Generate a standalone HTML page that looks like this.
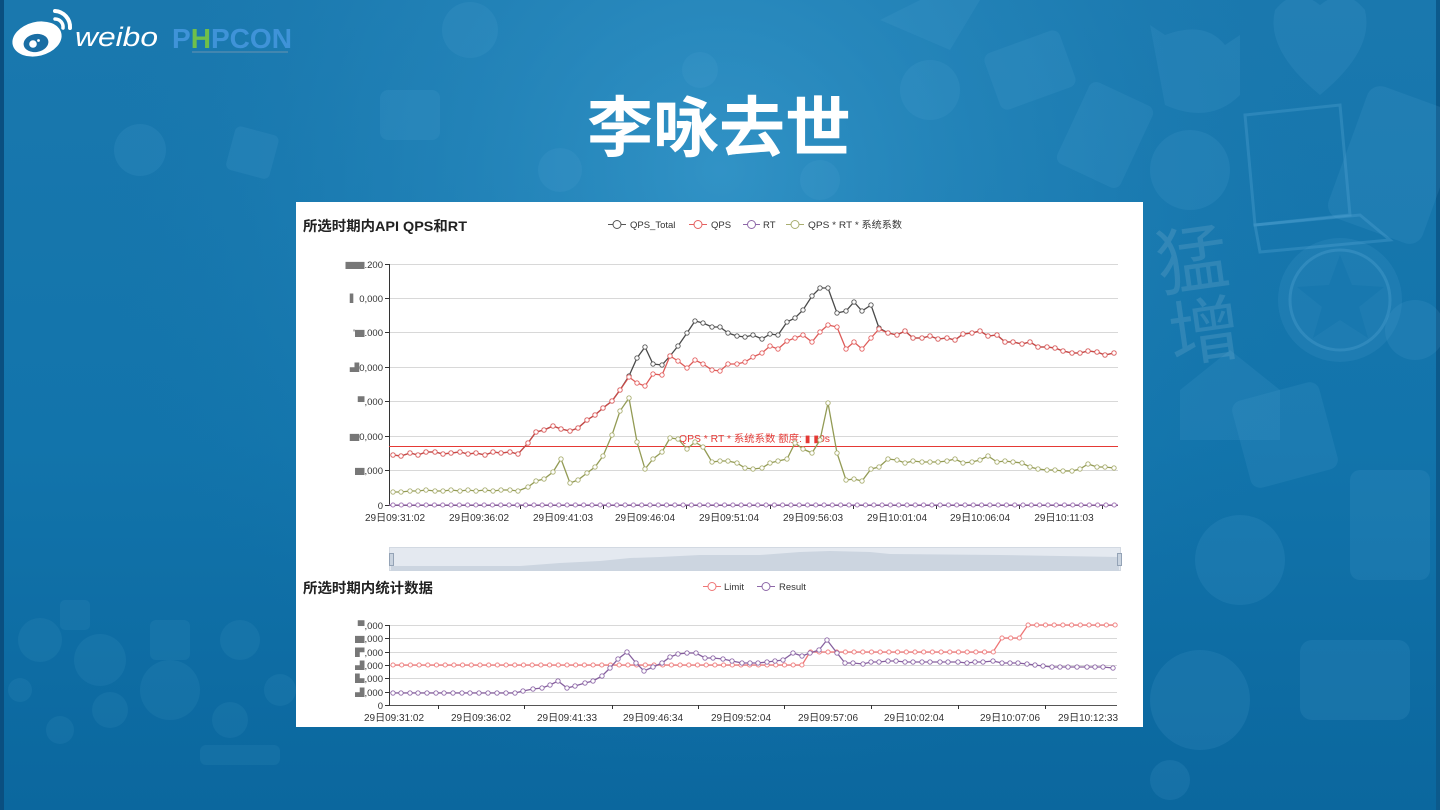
<!DOCTYPE html>
<html>
<head>
<meta charset="utf-8">
<style>
html,body{margin:0;padding:0;width:1440px;height:810px;overflow:hidden;background:#136fa5;}
svg{display:block;}
.t{font-family:"Liberation Sans","Noto Sans CJK SC",sans-serif;}
.b{fill:#777;}
</style>
</head>
<body>
<svg width="1440" height="810" viewBox="0 0 1440 810" xmlns="http://www.w3.org/2000/svg" class="t">
<defs>
  <linearGradient id="bg" x1="0" y1="0" x2="0" y2="1">
    <stop offset="0" stop-color="#1a78ae"/>
    <stop offset="0.55" stop-color="#1274ab"/>
    <stop offset="1" stop-color="#0b679e"/>
  </linearGradient>
  <radialGradient id="hl" cx="720" cy="170" r="620" gradientUnits="userSpaceOnUse">
    <stop offset="0" stop-color="#3a9cce" stop-opacity="0.75"/>
    <stop offset="0.6" stop-color="#2a8cc0" stop-opacity="0.3"/>
    <stop offset="1" stop-color="#1a78ae" stop-opacity="0"/>
  </radialGradient>
  <marker id="mK" viewBox="0 0 6 6" refX="3" refY="3" markerWidth="6" markerHeight="6" markerUnits="userSpaceOnUse"><circle cx="3" cy="3" r="2.2" fill="#fff" stroke="#555" stroke-width="0.9"/></marker>
  <marker id="mR" viewBox="0 0 6 6" refX="3" refY="3" markerWidth="6" markerHeight="6" markerUnits="userSpaceOnUse"><circle cx="3" cy="3" r="2.2" fill="#fff" stroke="#e46060" stroke-width="0.9"/></marker>
  <marker id="mG" viewBox="0 0 6 6" refX="3" refY="3" markerWidth="6" markerHeight="6" markerUnits="userSpaceOnUse"><circle cx="3" cy="3" r="2.2" fill="#fff" stroke="#a9ae70" stroke-width="0.9"/></marker>
  <marker id="mP" viewBox="0 0 6 6" refX="3" refY="3" markerWidth="6" markerHeight="6" markerUnits="userSpaceOnUse"><circle cx="3" cy="3" r="2.2" fill="#fff" stroke="#8e68a8" stroke-width="0.9"/></marker>
  <pattern id="pRT" x="390" y="502" width="8.29" height="6" patternUnits="userSpaceOnUse"><circle cx="3" cy="3" r="2.1" fill="#fff" stroke="#9b6ab0" stroke-width="0.9"/></pattern>
  <pattern id="pL1" x="390" y="662" width="8.7" height="6" patternUnits="userSpaceOnUse"><circle cx="3" cy="3" r="2.1" fill="#fff" stroke="#ef7676" stroke-width="0.9"/></pattern>
  <pattern id="pL2" x="390" y="649" width="8.7" height="6" patternUnits="userSpaceOnUse"><circle cx="3" cy="3" r="2.1" fill="#fff" stroke="#ef7676" stroke-width="0.9"/></pattern>
  <pattern id="pL3" x="390" y="635" width="8.7" height="6" patternUnits="userSpaceOnUse"><circle cx="3" cy="3" r="2.1" fill="#fff" stroke="#ef7676" stroke-width="0.9"/></pattern>
  <pattern id="pL4" x="390" y="622" width="8.7" height="6" patternUnits="userSpaceOnUse"><circle cx="3" cy="3" r="2.1" fill="#fff" stroke="#ef7676" stroke-width="0.9"/></pattern>
</defs>

<!-- background -->
<rect x="0" y="0" width="1440" height="810" fill="url(#bg)"/>
<rect x="0" y="0" width="1440" height="810" fill="url(#hl)"/>
<rect x="0" y="0" width="4" height="810" fill="#0a4f80"/>
<rect x="1436" y="0" width="4" height="810" fill="#0c5a8c"/>

<!-- decorative background shapes -->
<g fill="#5aaad6" fill-opacity="0.15">
  <path d="M1275 10 q20 -25 45 -5 q25 -20 45 5 q10 40 -45 85 q-55 -45 -45 -85z"/>
  <path d="M1150 25 l15 10 q40 -15 60 10 l15 -10 l0 60 q-30 30 -75 10z"/>
  <rect x="1345" y="95" width="100" height="140" rx="14" transform="rotate(20 1395 165)"/>
  <circle cx="1340" cy="300" r="62"/>
  <circle cx="1190" cy="170" r="40"/>
  <circle cx="1415" cy="330" r="30"/>
  <rect x="1240" y="390" width="90" height="90" rx="10" transform="rotate(-15 1285 435)"/>
  <path d="M1180 390 l50 -40 l50 40 l0 50 l-100 0z"/>
  <rect x="1350" y="470" width="80" height="110" rx="10"/>
  <circle cx="1240" cy="560" r="45"/>
  <circle cx="1200" cy="700" r="50"/>
  <rect x="1300" y="640" width="110" height="80" rx="12"/>
  <circle cx="930" cy="90" r="30"/>
  <rect x="990" y="40" width="80" height="60" rx="8" transform="rotate(-20 1030 70)"/>
  <rect x="1070" y="90" width="70" height="90" rx="8" transform="rotate(25 1105 135)"/>
  <path d="M880 20 l40 -20 l60 0 l-30 50z"/>
  <circle cx="470" cy="30" r="28"/>
  <rect x="380" y="90" width="60" height="50" rx="8"/>
  <circle cx="560" cy="170" r="22"/>
  <rect x="230" y="130" width="45" height="45" rx="6" transform="rotate(15 252 152)"/>
  <circle cx="140" cy="150" r="26"/>
  <circle cx="700" cy="70" r="18"/>
  <circle cx="820" cy="180" r="20"/>
  <circle cx="1170" cy="780" r="20"/>
</g>
<g fill="#5aaad6" fill-opacity="0.11">
  <circle cx="40" cy="640" r="22"/>
  <circle cx="100" cy="660" r="26"/>
  <circle cx="110" cy="710" r="18"/>
  <circle cx="170" cy="690" r="30"/>
  <rect x="150" y="620" width="40" height="40" rx="6"/>
  <circle cx="240" cy="640" r="20"/>
  <circle cx="60" cy="730" r="14"/>
  <circle cx="230" cy="720" r="18"/>
  <rect x="200" y="745" width="80" height="20" rx="6"/>
  <circle cx="20" cy="690" r="12"/>
  <rect x="60" y="600" width="30" height="30" rx="5"/>
  <circle cx="280" cy="690" r="16"/>
</g>
<g fill="none" stroke="#5aaad6" stroke-opacity="0.3" stroke-width="3">
  <path d="M1245 115 l95 -10 l10 110 l-95 10z"/>
  <path d="M1255 225 l105 -10 l30 25 l-130 12z"/>
  <circle cx="1340" cy="300" r="50"/>
</g>
<path d="M1340 255 l12 30 l32 2 l-25 20 l9 31 l-28 -18 l-27 18 l9 -31 l-25 -20 l32 -2z" fill="#1274ab" fill-opacity="0.5"/>
<text x="1160" y="285" font-family="'Noto Sans CJK SC',sans-serif" font-size="72" fill="#ffffff" fill-opacity="0.11" transform="rotate(-8 1200 285)">猛</text>
<text x="1170" y="358" font-family="'Noto Sans CJK SC',sans-serif" font-size="72" fill="#ffffff" fill-opacity="0.11" transform="rotate(-8 1200 340)">增</text>

<!-- weibo logo -->
<g>
  <ellipse cx="37" cy="39" rx="25" ry="17" fill="#ffffff" transform="rotate(-14 37 39)"/>
  <ellipse cx="36" cy="43" rx="12.5" ry="9" fill="#1a6ea4" transform="rotate(-10 36 43)"/>
  <circle cx="33" cy="44" r="3.8" fill="#ffffff"/>
  <circle cx="38.5" cy="40.5" r="1.4" fill="#ffffff"/>
  <path d="M55 11 a16 16 0 0 1 15 17" fill="none" stroke="#ffffff" stroke-width="4" stroke-linecap="round"/>
  <path d="M55 19 a8 8 0 0 1 8 9" fill="none" stroke="#ffffff" stroke-width="3.5" stroke-linecap="round"/>
  <text x="75" y="46" font-size="27" font-style="italic" fill="#ffffff" textLength="83" lengthAdjust="spacingAndGlyphs">weibo</text>
  <text x="172" y="48" font-size="28" font-weight="bold" fill="#3f93d8" textLength="120" lengthAdjust="spacingAndGlyphs">P<tspan fill="#6fbf4a">H</tspan>PCON</text>
  <rect x="192" y="51" width="96" height="2" fill="#5d8fb0" opacity="0.6"/>
</g>

<!-- title -->
<text x="719" y="151" text-anchor="middle" font-family="'Noto Sans CJK SC',sans-serif" font-weight="bold" font-size="66" fill="#ffffff">李咏去世</text>

<!-- white panel -->
<rect x="296" y="202" width="847" height="525" fill="#ffffff"/>

<!-- chart 1 title and legend -->
<text x="303" y="231" font-size="14" font-weight="bold" fill="#222" textLength="164" lengthAdjust="spacingAndGlyphs">所选时期内API QPS和RT</text>
<g font-size="9.5" fill="#333">
  <line x1="608" y1="224.5" x2="626" y2="224.5" stroke="#555" stroke-width="1"/><circle cx="617" cy="224.5" r="4" fill="#fff" stroke="#555"/>
  <text x="630" y="228">QPS_Total</text>
  <line x1="689" y1="224.5" x2="707" y2="224.5" stroke="#e46060" stroke-width="1"/><circle cx="698" cy="224.5" r="4" fill="#fff" stroke="#e46060"/>
  <text x="711" y="228">QPS</text>
  <line x1="743" y1="224.5" x2="760" y2="224.5" stroke="#8e68a8" stroke-width="1"/><circle cx="751.5" cy="224.5" r="4" fill="#fff" stroke="#8e68a8"/>
  <text x="763" y="228">RT</text>
  <line x1="786" y1="224.5" x2="804" y2="224.5" stroke="#a9ae70" stroke-width="1"/><circle cx="795" cy="224.5" r="4" fill="#fff" stroke="#a9ae70"/>
  <text x="808" y="228" textLength="94" lengthAdjust="spacingAndGlyphs">QPS * RT * 系统系数</text>
</g>

<!-- chart 1 grid -->
<g stroke="#d8d8d8" stroke-width="1">
  <line x1="389" y1="264.5" x2="1118" y2="264.5"/>
  <line x1="389" y1="298.5" x2="1118" y2="298.5"/>
  <line x1="389" y1="332.5" x2="1118" y2="332.5"/>
  <line x1="389" y1="367.5" x2="1118" y2="367.5"/>
  <line x1="389" y1="401.5" x2="1118" y2="401.5"/>
  <line x1="389" y1="436.5" x2="1118" y2="436.5"/>
  <line x1="389" y1="470.5" x2="1118" y2="470.5"/>
</g>
<line x1="389" y1="505.5" x2="1118" y2="505.5" stroke="#555" stroke-width="1"/>
<line x1="389.5" y1="264" x2="389.5" y2="506" stroke="#333" stroke-width="1"/>
<g stroke="#333" stroke-width="1">
  <line x1="385" y1="264.5" x2="389" y2="264.5"/><line x1="385" y1="298.5" x2="389" y2="298.5"/>
  <line x1="385" y1="332.5" x2="389" y2="332.5"/><line x1="385" y1="367.5" x2="389" y2="367.5"/>
  <line x1="385" y1="401.5" x2="389" y2="401.5"/><line x1="385" y1="436.5" x2="389" y2="436.5"/>
  <line x1="385" y1="470.5" x2="389" y2="470.5"/><line x1="385" y1="505.5" x2="389" y2="505.5"/>
  <line x1="520.5" y1="505" x2="520.5" y2="509"/><line x1="603.5" y1="505" x2="603.5" y2="509"/>
  <line x1="686.5" y1="505" x2="686.5" y2="509"/><line x1="770.5" y1="505" x2="770.5" y2="509"/>
  <line x1="853.5" y1="505" x2="853.5" y2="509"/><line x1="936.5" y1="505" x2="936.5" y2="509"/>
  <line x1="1019.5" y1="505" x2="1019.5" y2="509"/><line x1="1102.5" y1="505" x2="1102.5" y2="509"/>
</g>
<g font-size="9.5" fill="#333" text-anchor="end">
  <text x="383" y="268"><tspan class="b">▆▆</tspan>.200</text>
  <text x="383" y="302"><tspan class="b">▍</tspan>0,000</text>
  <text x="383" y="336">'<tspan class="b">▆</tspan>.000</text>
  <text x="383" y="371"><tspan class="b">▟</tspan>0,000</text>
  <text x="383" y="405"><tspan class="b">▀</tspan>,000</text>
  <text x="383" y="440"><tspan class="b">▆</tspan>0,000</text>
  <text x="383" y="474"><tspan class="b">▆</tspan>,000</text>
  <text x="383" y="509">0</text>
</g>
<g font-size="10" fill="#333" text-anchor="middle">
  <text x="395" y="521">29日09:31:02</text>
  <text x="479" y="521">29日09:36:02</text>
  <text x="563" y="521">29日09:41:03</text>
  <text x="645" y="521">29日09:46:04</text>
  <text x="729" y="521">29日09:51:04</text>
  <text x="813" y="521">29日09:56:03</text>
  <text x="897" y="521">29日10:01:04</text>
  <text x="980" y="521">29日10:06:04</text>
  <text x="1064" y="521">29日10:11:03</text>
</g>

<!-- threshold line -->
<line x1="389" y1="446.5" x2="1118" y2="446.5" stroke="#e53935" stroke-width="1"/>
<text x="679" y="442" font-size="10" fill="#e53935" textLength="151" lengthAdjust="spacingAndGlyphs">QPS * RT * 系统系数 额度: ▮ ▮0s</text>

<!-- RT series -->
<line x1="389" y1="505" x2="1118" y2="505" stroke="#9b6ab0" stroke-width="1.2"/>
<rect x="389" y="502" width="729" height="6" fill="url(#pRT)"/>

<!-- Green series -->
<polyline fill="none" stroke="#939b55" stroke-width="1.3" marker-start="url(#mG)" marker-mid="url(#mG)" marker-end="url(#mG)" points="393,492 401,492 410,491 418,491 426,490 435,491 443,491 451,490 460,491 468,490 476,491 485,490 493,491 501,490 510,490 518,491 528,487 536,481 544,479 553,472 561,459 570,483 578,480 587,473 595,467 603,456 612,435 620,411 629,398 637,442 645,469 653,459 662,452 670,438 678,439 687,449 695,442 703,447 712,462 720,461 728,461 737,463 745,468 753,469 762,468 770,463 778,461 787,459 795,443 803,449 812,453 820,440 828,403 837,453 846,480 854,479 862,481 871,469 879,467 888,459 897,460 905,463 913,461 922,462 930,462 938,462 947,461 955,459 963,463 972,462 980,460 988,456 997,462 1005,461 1013,462 1022,463 1030,467 1038,469 1047,470 1055,470 1063,471 1072,471 1080,469 1088,464 1097,467 1105,467 1114,468"/>

<!-- QPS_Total series -->
<polyline fill="none" stroke="#4a4a4a" stroke-width="1.3" marker-start="url(#mK)" marker-mid="url(#mK)" marker-end="url(#mK)" points="393,455 401,456 410,453 418,455 426,452 435,452 443,454 451,453 460,452 468,454 476,453 485,455 493,452 501,453 510,452 518,454 528,443 536,432 544,430 553,426 561,429 570,431 578,428 587,420 595,415 603,408 612,401 620,390 629,376 637,358 645,347 653,364 662,365 670,356 678,346 687,333 695,321 703,323 712,327 720,327 728,333 737,336 745,337 753,335 762,339 770,334 778,335 787,322 795,318 803,310 812,296 820,288 828,288 837,313 846,311 854,302 862,311 871,305 879,328 888,333 897,335 905,331 913,338 922,338 930,336 938,339 947,338 955,340 963,334 972,333 980,331 988,336 997,335 1005,342 1013,342 1022,344 1030,342 1038,347 1047,347 1055,348 1063,351 1072,353 1080,353 1088,351 1097,352 1105,355 1114,353"/>

<!-- QPS series -->
<polyline fill="none" stroke="#d94a47" stroke-opacity="0.9" stroke-width="1.3" marker-start="url(#mR)" marker-mid="url(#mR)" marker-end="url(#mR)" points="393,455 401,456 410,453 418,455 426,452 435,452 443,454 451,453 460,452 468,454 476,453 485,455 493,452 501,453 510,452 518,454 528,443 536,432 544,430 553,426 561,429 570,431 578,428 587,420 595,415 603,408 612,401 620,390 629,377 637,383 645,386 653,374 662,375 670,356 678,361 687,368 695,360 703,364 712,370 720,371 728,364 737,364 745,362 753,357 762,353 770,346 778,349 787,341 795,338 803,335 812,342 820,332 828,325 837,327 846,349 854,342 862,349 871,338 879,329 888,333 897,335 905,331 913,338 922,338 930,336 938,339 947,338 955,340 963,334 972,333 980,331 988,336 997,335 1005,342 1013,342 1022,344 1030,342 1038,347 1047,347 1055,348 1063,351 1072,353 1080,353 1088,351 1097,352 1105,355 1114,353"/>

<!-- data zoom strip -->
<rect x="389.5" y="547.5" width="731" height="23" fill="#e4e9f0" stroke="#d2d9e2" stroke-width="1"/>
<path d="M391,571 L391,566 L520,566 L560,563 L600,561 L630,558 L660,557 L700,555 L760,555 L800,552 L830,551 L870,552 L890,554 L1000,555 L1119,557 L1119,571 Z" fill="#ccd5e0"/>
<rect x="389.5" y="553.5" width="4" height="12" fill="#c9d3df" stroke="#94a3b6" stroke-width="1"/>
<rect x="1117.5" y="553.5" width="4" height="12" fill="#c9d3df" stroke="#94a3b6" stroke-width="1"/>

<!-- chart 2 title and legend -->
<text x="303" y="593" font-size="14" font-weight="bold" fill="#222" textLength="130" lengthAdjust="spacingAndGlyphs">所选时期内统计数据</text>
<g font-size="9.5" fill="#333">
  <line x1="703" y1="586.5" x2="721" y2="586.5" stroke="#ef7676" stroke-width="1"/><circle cx="712" cy="586.5" r="4" fill="#fff" stroke="#ef7676"/>
  <text x="724" y="590">Limit</text>
  <line x1="757" y1="586.5" x2="775" y2="586.5" stroke="#8e68a8" stroke-width="1"/><circle cx="766" cy="586.5" r="4" fill="#fff" stroke="#8e68a8"/>
  <text x="779" y="590">Result</text>
</g>

<!-- chart 2 grid -->
<g stroke="#d8d8d8" stroke-width="1">
  <line x1="389" y1="625.5" x2="1117" y2="625.5"/>
  <line x1="389" y1="638.5" x2="1117" y2="638.5"/>
  <line x1="389" y1="652.5" x2="1117" y2="652.5"/>
  <line x1="389" y1="665.5" x2="1117" y2="665.5"/>
  <line x1="389" y1="678.5" x2="1117" y2="678.5"/>
  <line x1="389" y1="692.5" x2="1117" y2="692.5"/>
</g>
<line x1="389" y1="705.5" x2="1117" y2="705.5" stroke="#555" stroke-width="1"/>
<line x1="389.5" y1="625" x2="389.5" y2="706" stroke="#333" stroke-width="1"/>
<g stroke="#333" stroke-width="1">
  <line x1="385" y1="625.5" x2="389" y2="625.5"/><line x1="385" y1="638.5" x2="389" y2="638.5"/>
  <line x1="385" y1="652.5" x2="389" y2="652.5"/><line x1="385" y1="665.5" x2="389" y2="665.5"/>
  <line x1="385" y1="678.5" x2="389" y2="678.5"/><line x1="385" y1="692.5" x2="389" y2="692.5"/>
  <line x1="385" y1="705.5" x2="389" y2="705.5"/>
  <line x1="438.5" y1="705" x2="438.5" y2="709"/><line x1="524.5" y1="705" x2="524.5" y2="709"/>
  <line x1="612.5" y1="705" x2="612.5" y2="709"/><line x1="698.5" y1="705" x2="698.5" y2="709"/>
  <line x1="784.5" y1="705" x2="784.5" y2="709"/><line x1="871.5" y1="705" x2="871.5" y2="709"/>
  <line x1="958.5" y1="705" x2="958.5" y2="709"/><line x1="1045.5" y1="705" x2="1045.5" y2="709"/>
</g>
<g font-size="9.5" fill="#333" text-anchor="end">
  <text x="383" y="629"><tspan class="b">▀</tspan>,000</text>
  <text x="383" y="642"><tspan class="b">▆</tspan>,000</text>
  <text x="383" y="656"><tspan class="b">▛</tspan>,000</text>
  <text x="383" y="669"><tspan class="b">▟</tspan>,000</text>
  <text x="383" y="682"><tspan class="b">▙</tspan>,000</text>
  <text x="383" y="696"><tspan class="b">▟</tspan>,000</text>
  <text x="383" y="709">0</text>
</g>
<g font-size="10" fill="#333" text-anchor="middle">
  <text x="394" y="721">29日09:31:02</text>
  <text x="481" y="721">29日09:36:02</text>
  <text x="567" y="721">29日09:41:33</text>
  <text x="653" y="721">29日09:46:34</text>
  <text x="741" y="721">29日09:52:04</text>
  <text x="828" y="721">29日09:57:06</text>
  <text x="914" y="721">29日10:02:04</text>
  <text x="1010" y="721">29日10:07:06</text>
  <text x="1088" y="721">29日10:12:33</text>
</g>

<!-- Limit series -->
<polyline fill="none" stroke="#ef7676" stroke-width="1.3" points="393,665 802,665 810,652 993,652 1002,638 1019,638 1028,625 1114,625"/>
<rect x="389" y="662" width="417" height="6" fill="url(#pL1)"/>
<rect x="806" y="649" width="192" height="6" fill="url(#pL2)"/>
<rect x="998" y="635" width="25" height="6" fill="url(#pL3)"/>
<rect x="1023" y="622" width="95" height="6" fill="url(#pL4)"/>

<!-- Result series -->
<polyline fill="none" stroke="#86609e" stroke-width="1.3" marker-start="url(#mP)" marker-mid="url(#mP)" marker-end="url(#mP)" points="393,693 401,693 410,693 418,693 427,693 436,693 444,693 453,693 462,693 470,693 479,693 488,693 497,693 506,693 515,693 523,691 533,689 542,688 550,685 558,681 567,688 575,686 585,683 593,681 602,676 610,668 618,659 627,652 636,663 644,671 653,667 662,663 670,657 678,654 687,653 696,653 705,658 713,658 723,659 732,661 742,663 750,663 758,663 767,662 775,661 783,660 793,653 802,656 810,653 819,650 827,640 837,653 845,663 853,663 863,664 871,662 879,662 888,661 896,661 905,662 913,662 922,662 930,662 940,662 948,662 958,662 967,663 975,662 983,662 993,661 1002,663 1010,663 1018,663 1027,664 1035,665 1043,666 1052,667 1060,667 1068,667 1077,667 1087,667 1095,667 1103,667 1113,668"/>
</svg>
</body>
</html>
